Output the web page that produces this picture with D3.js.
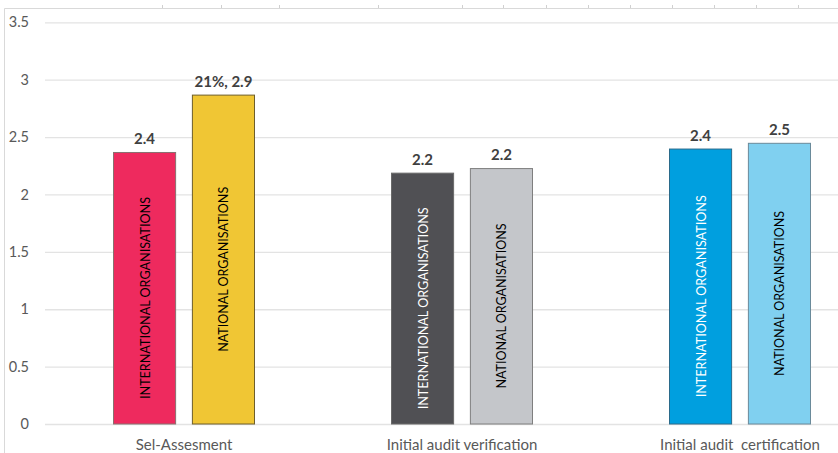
<!DOCTYPE html>
<html><head><meta charset="utf-8">
<script src="https://cdn.jsdelivr.net/npm/d3@7"></script>
<style>body{margin:0;background:#fff;}svg{display:block;font-family:Lato,"Open Sans",sans-serif;}</style>
</head><body>
<svg id="chart" width="838" height="453"></svg>
<script>
const categories = ["Sel-Assesment", "Initial audit verification", "Initial audit\u00a0 certification"];
const seriesNames = ["INTERNATIONAL ORGANISATIONS", "NATIONAL ORGANISATIONS"];
const international = [2.37, 2.19, 2.40];
const national = [2.87, 2.23, 2.45];
const intLabels = ["2.4", "2.2", "2.4"];
const natLabels = ["21%, 2.9", "2.2", "2.5"];
const yTicks = [0, 0.5, 1, 1.5, 2, 2.5, 3, 3.5];
const intFill = ["#EE2A5E", "#505054", "#009FDF"];
const natFill = ["#F0C634", "#C4C6CA", "#80D0F0"];
const intStroke = ["#8a7070", "#6a6a6a", "#2a6a8a"];
const natStroke = ["#6e5e2a", "#7f7f7f", "#6a8a9a"];
const intText = ["#000", "#fff", "#fff"];
const natText = ["#000", "#000", "#000"];

const svg = d3.select("#chart");
svg.append("path").attr("d","M4.5,453 V8.5 H838").attr("fill","none").attr("stroke","#d9d9d9");
const topTicks = [162,221,279,378,462,503,546,588,630,672,714,756,798];
svg.selectAll(".tt").data(topTicks).enter().append("line")
  .attr("x1",d=>d+0.5).attr("x2",d=>d+0.5).attr("y1",5).attr("y2",8).attr("stroke","#d0d0d0");

const y = d3.scaleLinear().domain([0,3.5]).range([424,22.3]);
const x0 = d3.scaleBand().domain(categories).range([45,879]).paddingInner(0).paddingOuter(0);
const x1 = d3.scaleBand().domain([0,1]).range([x0.bandwidth()/2-71, x0.bandwidth()/2+71]).paddingInner(0.2);

const yAxis = d3.axisLeft(y).tickValues(yTicks).tickSize(-(838-45)).tickFormat(d=>String(d)).tickPadding(16);
const ga = svg.append("g").attr("transform","translate(45,0)").call(yAxis);
ga.select(".domain").remove();
ga.selectAll(".tick line").attr("stroke","#e3e3e3").attr("stroke-width",1.3);
ga.selectAll(".tick text").attr("fill","#595959").attr("font-size",14.5).attr("font-family","Lato,sans-serif");

const groups = svg.selectAll(".grp").data(categories).enter().append("g")
  .attr("transform",d=>`translate(${x0(d)},0)`);

categories.forEach((c,i)=>{
  const g = groups.filter(d=>d===c);
  const bars = [
    {v:international[i], lab:intLabels[i], fill:intFill[i], stroke:intStroke[i], tc:intText[i], name:seriesNames[0], k:0},
    {v:national[i], lab:natLabels[i], fill:natFill[i], stroke:natStroke[i], tc:natText[i], name:seriesNames[1], k:1}
  ];
  bars.forEach(b=>{
    const bx = x1(b.k), bw = x1.bandwidth();
    g.append("rect").attr("x",bx+0.5).attr("y",y(b.v)+0.5).attr("width",bw-1).attr("height",y(0)-y(b.v)-0.5)
      .attr("fill",b.fill).attr("stroke",b.stroke).attr("stroke-width",1);
    g.append("text").attr("x",bx+bw/2).attr("y",y(b.v)-8).attr("text-anchor","middle")
      .attr("font-weight","bold").attr("font-size",15).attr("fill","#404040").text(b.lab);
    const cy = (y(b.v)+y(0))/2 + 10;
    const len = b.k===0 ? 202 : 165;
    g.append("text").attr("transform",`translate(${bx+bw/2+5},${cy}) rotate(-90)`)
      .attr("text-anchor","middle").attr("font-size",13.5).attr("fill",b.tc)
      .attr("textLength",len).attr("lengthAdjust","spacingAndGlyphs").text(b.name);
  });
  g.append("text").attr("x",x0.bandwidth()/2).attr("y",450).attr("text-anchor","middle")
    .attr("font-size",15).attr("fill","#595959").text(c);
});
</script>
</body></html>
